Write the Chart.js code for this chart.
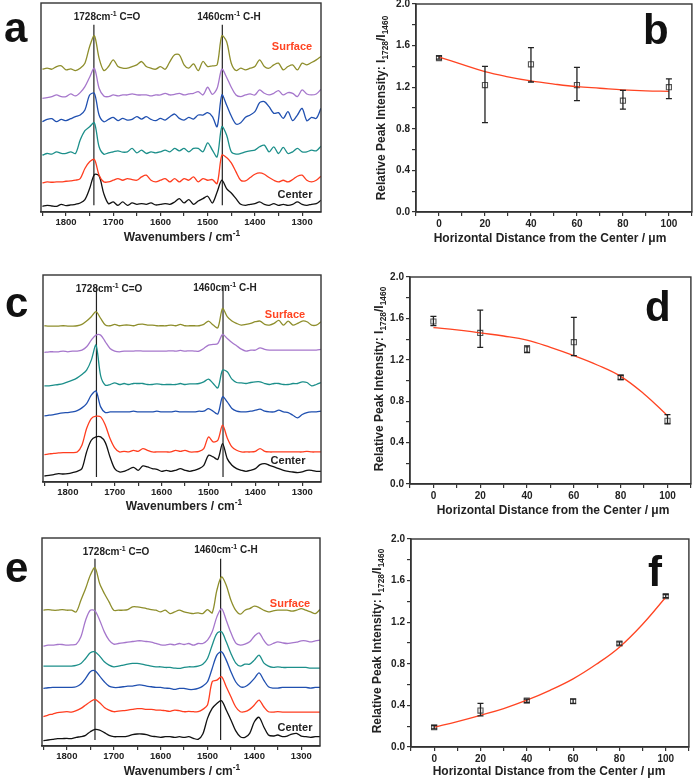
<!DOCTYPE html>
<html>
<head>
<meta charset="utf-8">
<script src="https://cdn.jsdelivr.net/npm/chart.js@4.4.1/dist/chart.umd.min.js"></script>
<style>
  body { margin: 0; background: #fff; width: 697px; height: 784px; position: relative; overflow: hidden;
         font-family: "Liberation Sans", Arial, sans-serif; }
  canvas { position: absolute; }
  .t { position: absolute; transform: translate(-50%, -50%); white-space: nowrap; font-weight: bold;
       line-height: 1; color: #222; }
  .t sup, .t sub { font-size: 70%; line-height: 0; }
  .rot { transform: translate(-50%, -50%) rotate(-90deg); }
  .big { font-size: 42px; color: #111; transform: none; }
</style>
</head>
<body>
<canvas id="ca" width="300" height="239" style="left:31px;top:-7px"></canvas>
<canvas id="cb" width="321" height="238" style="left:376px;top:-6px"></canvas>
<canvas id="cc" width="298" height="237" style="left:33px;top:265px"></canvas>
<canvas id="cd" width="326" height="237" style="left:370px;top:267px"></canvas>
<canvas id="ce" width="298" height="238" style="left:32px;top:528px"></canvas>
<canvas id="cf" width="323" height="238" style="left:371px;top:529px"></canvas>

<script>
// wavenumber grid shared by all spectra (cm-1)
const wn = [1850,1840,1830,1820,1810,1800,1790,1780,1770,1760,1750,1740,1730,1720,1710,1700,1690,1680,1670,1660,
            1650,1640,1630,1620,1610,1600,1590,1580,1570,1560,1550,1540,1530,1520,1510,1500,1490,1480,1470,1460,
            1450,1440,1430,1420,1410,1400,1390,1380,1370,1360,1350,1340,1330,1320,1310,1300,1290,1280,1270,1260];
// tick marks on the wavenumber axis (labels every 100)
const wnTicks = [1850, 1800, 1750, 1700, 1650, 1600, 1550, 1500, 1450, 1400, 1350, 1300];

// panel a spectra (stacked, arbitrary units)
const aOlive  = [4.27,4.30,4.27,4.35,4.37,4.25,4.28,4.23,4.30,4.45,4.95,5.27,4.60,4.23,4.35,4.55,4.35,4.30,4.30,4.35,
                 4.40,4.50,4.35,4.30,4.27,4.35,4.27,4.50,4.70,4.70,4.40,4.30,4.43,4.23,4.50,4.35,4.37,4.40,5.27,5.10,
                 4.45,4.23,4.30,4.25,4.30,4.35,4.55,4.35,4.30,4.40,4.45,4.25,4.35,4.40,4.25,4.45,4.40,4.47,4.55,4.65];
const aPurple = [3.40,3.42,3.45,3.50,3.45,3.45,3.53,3.47,3.57,3.75,4.03,4.30,3.70,3.47,3.45,3.50,3.47,3.50,3.50,3.53,
                 3.50,3.50,3.50,3.47,3.50,3.50,3.55,3.50,3.52,3.55,3.50,3.53,3.55,3.60,3.50,3.73,3.52,3.70,4.27,4.03,
                 3.73,3.50,3.45,3.50,3.53,3.50,3.65,3.55,3.50,3.55,3.63,3.50,3.57,3.55,3.45,3.65,3.53,3.50,3.53,3.67];
const aBlue   = [2.70,2.77,2.79,2.70,2.77,2.73,2.79,2.85,2.90,3.05,3.50,3.55,2.90,2.70,2.77,2.83,2.73,2.80,2.75,2.77,
                 2.85,2.78,2.85,2.77,2.73,2.80,2.75,2.85,2.93,2.80,2.75,2.83,2.78,2.90,2.90,2.97,2.85,2.55,3.50,3.20,
                 2.87,2.63,2.67,2.83,2.90,3.00,3.27,3.30,3.15,2.95,2.97,2.80,3.00,2.73,2.90,3.10,2.73,2.83,2.80,3.10];
const aTeal   = [1.70,1.75,1.73,1.80,1.75,1.75,1.80,1.75,2.15,2.43,2.55,2.67,1.95,1.73,1.77,1.80,1.83,1.79,1.80,1.90,
                 1.77,1.85,1.75,1.80,1.77,1.80,1.85,1.80,1.90,1.83,1.90,1.80,1.90,1.90,1.80,2.07,1.85,1.65,2.55,2.30,
                 1.80,1.73,1.75,1.80,1.83,1.85,1.95,2.00,1.80,1.95,1.75,1.93,1.75,1.80,1.90,1.80,1.80,1.85,1.83,1.97];
const aRed    = [0.87,0.90,0.89,0.90,0.90,0.92,0.93,0.95,1.00,1.30,1.50,1.57,1.10,0.90,0.90,0.95,1.00,0.95,1.00,0.97,
                 0.95,1.05,1.10,0.95,0.90,0.95,1.00,0.90,1.00,0.90,1.00,0.95,1.05,0.90,1.00,0.95,0.97,0.85,1.70,1.63,
                 1.47,1.20,0.95,0.93,1.03,1.13,1.17,1.13,1.03,0.95,0.90,0.95,0.90,0.97,1.07,1.10,0.95,0.90,0.95,1.07];
const aBlack  = [0.17,0.20,0.18,0.17,0.23,0.19,0.21,0.23,0.27,0.37,0.70,1.12,1.08,0.55,0.25,0.30,0.20,0.30,0.20,0.27,
                 0.23,0.25,0.23,0.27,0.21,0.23,0.25,0.23,0.30,0.40,0.27,0.37,0.23,0.33,0.40,0.47,0.27,0.60,0.95,0.70,
                 0.57,0.40,0.23,0.20,0.23,0.25,0.30,0.23,0.20,0.25,0.20,0.23,0.20,0.23,0.30,0.23,0.20,0.23,0.25,0.35];

// panel c spectra
const cOlive  = [4.68,4.67,4.67,4.67,4.68,4.67,4.67,4.68,4.72,4.82,4.95,5.10,4.90,4.70,4.68,4.72,4.68,4.70,4.70,4.68,
                 4.72,4.73,4.70,4.70,4.68,4.68,4.68,4.70,4.68,4.72,4.68,4.68,4.68,4.68,4.72,4.82,4.70,4.62,5.20,4.95,
                 4.82,4.75,4.70,4.72,4.75,4.80,4.82,4.72,4.70,4.75,4.84,4.70,4.82,4.70,4.75,4.82,4.80,4.70,4.70,4.80];
const cPurple = [3.88,3.90,3.90,3.90,3.92,3.90,3.92,3.92,3.95,4.05,4.25,4.40,4.40,4.20,4.00,3.92,3.90,3.92,3.92,3.92,
                 3.93,3.92,3.92,3.92,3.92,3.92,3.92,3.93,3.92,3.94,3.92,3.93,3.92,3.92,4.00,4.10,4.12,4.15,4.42,4.30,
                 4.18,4.08,3.98,3.92,3.95,3.95,4.02,3.97,3.95,3.95,3.95,3.95,3.95,3.95,3.95,3.95,3.95,3.95,3.95,3.97];
const cTeal   = [2.88,2.88,2.90,2.92,2.95,3.00,3.05,3.12,3.22,3.35,3.65,4.10,3.18,2.90,2.92,2.97,2.92,2.95,2.92,2.95,
                 2.95,2.95,2.92,2.92,2.94,2.92,2.92,2.92,2.92,2.95,2.92,2.94,2.94,2.95,3.00,3.08,2.95,2.82,3.35,3.30,
                 3.08,2.98,2.97,2.95,2.98,3.00,3.00,2.95,2.92,2.95,2.95,2.92,2.92,2.95,2.95,3.00,2.98,2.88,2.92,2.98];
const cBlue   = [1.98,2.00,2.02,2.05,2.07,2.08,2.10,2.14,2.22,2.35,2.60,2.72,2.25,2.08,2.10,2.10,2.10,2.10,2.10,2.12,
                 2.10,2.10,2.10,2.10,2.12,2.10,2.10,2.10,2.12,2.10,2.10,2.10,2.10,2.12,2.12,2.20,2.12,2.04,2.55,2.40,
                 2.20,2.12,2.10,2.10,2.12,2.15,2.18,2.12,2.10,2.10,2.15,2.10,2.08,2.00,1.92,2.02,2.08,2.10,2.10,2.12];
const cRed    = [0.82,0.84,0.86,0.87,0.88,0.88,0.88,0.90,1.10,1.60,1.90,1.97,1.95,1.70,1.30,1.02,0.90,0.92,0.90,0.95,
                 0.92,1.00,0.95,0.90,0.90,0.90,0.90,0.90,0.95,0.92,0.95,0.90,0.90,0.92,1.00,1.35,1.20,1.25,1.70,1.32,
                 1.05,0.95,0.90,0.90,0.90,0.92,1.00,0.92,0.90,0.90,0.90,0.90,0.90,0.90,0.90,0.90,0.92,0.90,0.90,0.90];
const cBlack  = [0.18,0.20,0.22,0.25,0.24,0.25,0.28,0.32,0.40,0.90,1.25,1.35,1.35,1.18,0.75,0.40,0.30,0.32,0.38,0.44,
                 0.35,0.48,0.45,0.40,0.38,0.32,0.35,0.32,0.35,0.40,0.35,0.32,0.35,0.40,0.50,0.80,0.75,0.68,1.15,0.70,
                 0.50,0.40,0.35,0.32,0.35,0.40,0.52,0.55,0.50,0.45,0.40,0.35,0.32,0.30,0.28,0.30,0.35,0.35,0.32,0.32];

// panel e spectra
const eOlive  = [4.08,4.10,4.08,4.08,4.10,4.08,4.08,4.03,4.38,4.73,5.13,5.36,4.88,4.58,4.33,4.08,4.08,4.08,4.10,4.18,
                 4.18,4.16,4.13,4.10,4.08,4.03,4.08,3.98,4.03,4.08,4.03,4.00,3.98,4.00,3.98,4.10,4.00,4.68,5.08,4.83,
                 4.38,4.08,3.96,4.08,4.13,4.20,4.16,4.08,4.03,4.06,4.08,4.08,4.08,4.05,4.08,4.13,4.08,4.03,3.98,4.10];
const ePurple = [3.00,3.03,3.03,3.05,3.05,3.03,3.04,3.06,3.28,3.78,4.08,4.06,3.78,3.43,3.18,3.06,3.08,3.10,3.12,3.14,
                 3.16,3.16,3.14,3.12,3.08,3.04,3.03,3.06,3.04,3.08,3.05,3.08,3.03,3.08,3.08,3.18,3.43,3.88,4.13,3.78,
                 3.40,3.10,3.03,3.06,3.13,3.30,3.40,3.18,3.03,3.08,3.13,3.10,3.08,3.10,3.12,3.16,3.16,3.13,3.16,3.18];
const eTeal   = [2.40,2.40,2.40,2.40,2.40,2.40,2.40,2.42,2.48,2.63,2.80,2.83,2.70,2.53,2.43,2.38,2.40,2.43,2.46,2.48,
                 2.48,2.46,2.43,2.40,2.38,2.38,2.36,2.36,2.34,2.33,2.36,2.38,2.38,2.40,2.46,2.63,3.03,3.38,3.43,3.13,
                 2.78,2.50,2.40,2.46,2.46,2.58,2.73,2.50,2.40,2.36,2.38,2.36,2.36,2.36,2.36,2.36,2.36,2.34,2.34,2.34];
const eBlue   = [1.73,1.75,1.76,1.76,1.76,1.76,1.76,1.78,1.86,2.03,2.23,2.26,2.10,1.93,1.80,1.76,1.76,1.78,1.80,1.80,
                 1.83,1.83,1.80,1.78,1.76,1.76,1.74,1.73,1.70,1.73,1.73,1.70,1.70,1.73,1.80,1.93,2.33,2.73,2.83,2.58,
                 2.23,1.93,1.78,1.78,1.88,2.03,2.20,1.98,1.78,1.74,1.74,1.76,1.76,1.76,1.76,1.76,1.76,1.74,1.76,1.76];
const eRed    = [0.88,0.93,0.96,1.00,1.02,1.03,1.02,1.06,1.13,1.23,1.33,1.40,1.30,1.16,1.08,1.03,1.05,1.06,1.08,1.10,
                 1.12,1.12,1.10,1.10,1.08,1.08,1.06,1.04,1.08,1.06,1.03,1.04,1.03,1.03,1.10,1.23,1.93,1.98,2.08,1.78,
                 1.48,1.18,1.03,1.03,1.10,1.23,1.38,1.18,1.03,1.02,1.03,1.02,1.02,1.02,1.02,1.02,1.02,1.02,1.02,1.02];
const eBlack  = [0.16,0.18,0.20,0.22,0.22,0.23,0.22,0.26,0.28,0.32,0.43,0.50,0.48,0.40,0.32,0.28,0.28,0.28,0.30,0.34,
                 0.36,0.36,0.34,0.30,0.28,0.26,0.28,0.28,0.26,0.28,0.26,0.28,0.23,0.20,0.36,0.83,1.13,1.28,1.36,1.08,
                 0.78,0.46,0.28,0.26,0.38,0.73,0.86,0.58,0.33,0.30,0.33,0.28,0.30,0.36,0.38,0.30,0.28,0.26,0.28,0.28];

// marker lines (C=O, C-H) and their vertical span
const aMarks = [1741, 1469], aSpan = [0.20, 5.60];
const cMarks = [1739, 1469], cSpan = [0.15, 5.85];
const eMarks = [1740, 1472], eSpan = [0.18, 5.63];

// ratio plots
const dist = [0, 20, 40, 60, 80, 100];
const bRatio = [1.48, 1.22, 1.42, 1.22, 1.07, 1.20];
const bLow   = [1.47, 0.86, 1.25, 1.07, 0.99, 1.09];
const bHigh  = [1.50, 1.40, 1.58, 1.39, 1.17, 1.28];
const dRatio = [1.57, 1.46, 1.30, 1.37, 1.03, 0.61];
const dLow   = [1.53, 1.32, 1.27, 1.24, 1.01, 0.58];
const dHigh  = [1.62, 1.68, 1.335, 1.61, 1.05, 0.67];
const fRatio = [0.19, 0.35, 0.445, 0.44, 0.995, 1.45];
const fLow   = [0.175, 0.30, 0.43, 0.42, 0.98, 1.435];
const fHigh  = [0.205, 0.42, 0.46, 0.46, 1.01, 1.465];
const fitX = [0, 10, 20, 30, 40, 50, 60, 70, 80, 90, 100];
const bFit = [1.49, 1.42, 1.35, 1.30, 1.26, 1.23, 1.205, 1.19, 1.175, 1.165, 1.16];
const dFit = [1.51, 1.49, 1.46, 1.43, 1.39, 1.32, 1.24, 1.15, 1.04, 0.87, 0.66];
const fFit = [0.19, 0.245, 0.305, 0.37, 0.45, 0.545, 0.655, 0.795, 0.96, 1.18, 1.44];

const COL = { olive: "#8e8e2c", purple: "#a677cc", blue: "#2050b0", teal: "#1c8f8a", red: "#ff3d1f", black: "#111" };
const FIT = "#ff4422";

Chart.defaults.font.family = '"Liberation Sans", Arial, sans-serif';
Chart.defaults.font.weight = "bold";
Chart.defaults.color = "#222";

// box round the plot area
const framePlugin = {
  id: "frame",
  afterDraw(chart) {
    const { ctx, chartArea: a } = chart;
    ctx.save();
    ctx.strokeStyle = "#333";
    ctx.lineWidth = 1.4;
    ctx.strokeRect(a.left, a.top, a.right - a.left, a.bottom - a.top);
    ctx.restore();
  }
};

// vertical error bars with caps
const errorBarPlugin = {
  id: "errorBars",
  afterDatasetsDraw(chart, args, opts) {
    if (!opts || !opts.low) return;
    const { ctx } = chart;
    const xs = chart.scales.x, ys = chart.scales.y;
    ctx.save();
    ctx.strokeStyle = "#222";
    ctx.lineWidth = 1.3;
    opts.x.forEach((v, i) => {
      const px = xs.getPixelForValue(v);
      const y1 = ys.getPixelForValue(opts.low[i]);
      const y2 = ys.getPixelForValue(opts.high[i]);
      ctx.beginPath();
      ctx.moveTo(px, y1); ctx.lineTo(px, y2);
      ctx.moveTo(px - 3, y1); ctx.lineTo(px + 3, y1);
      ctx.moveTo(px - 3, y2); ctx.lineTo(px + 3, y2);
      ctx.stroke();
    });
    ctx.restore();
  }
};

const axisGrid = { drawOnChartArea: false, drawTicks: true, tickLength: 4, color: "#333", lineWidth: 1.2 };
const axisBorder = { display: true, color: "#333", width: 1.4 };

function makeSpectrum(id, traces, marks, span, yMax) {
  const datasets = traces.map(([vals, color]) => ({
    data: wn.map((w, i) => ({ x: w, y: vals[i] })),
    borderColor: color, borderWidth: 1.3, pointRadius: 0, tension: 0.3, fill: false
  }));
  marks.forEach(m => datasets.push({
    data: [{ x: m, y: span[0] }, { x: m, y: span[1] }],
    borderColor: "#222", borderWidth: 1.2, pointRadius: 0
  }));
  new Chart(document.getElementById(id), {
    type: "line",
    data: { datasets },
    plugins: [framePlugin],
    options: {
      responsive: false, animation: false, devicePixelRatio: 1,
      layout: { padding: { left: 10, right: 10, top: 10, bottom: 0 } },
      plugins: { legend: { display: false }, tooltip: { enabled: false } },
      scales: {
        x: {
          type: "linear", reverse: true, min: 1260, max: 1853,
          afterBuildTicks: s => { s.ticks = wnTicks.map(v => ({ value: v })); },
          afterFit: s => { s.height = 20; },
          grid: axisGrid, border: axisBorder,
          ticks: { autoSkip: false, maxRotation: 0, padding: 1, font: { size: 9.5 },
                   callback: v => (Math.round(v) % 100 === 0 ? String(Math.round(v)) : "") }
        },
        y: { display: false, min: 0, max: yMax }
      }
    }
  });
}

function makeRatio(id, ratio, low, high, fit) {
  new Chart(document.getElementById(id), {
    type: "scatter",
    data: {
      datasets: [
        { data: fitX.map((x, i) => ({ x, y: fit[i] })), showLine: true, borderColor: FIT,
          borderWidth: 1.3, pointRadius: 0, tension: 0.4 },
        { data: dist.map((x, i) => ({ x, y: ratio[i] })), pointStyle: "rect", pointRadius: 3.6,
          borderColor: "#555", backgroundColor: "rgba(255,255,255,0)", borderWidth: 1.1 }
      ]
    },
    plugins: [framePlugin, errorBarPlugin],
    options: {
      responsive: false, animation: false, devicePixelRatio: 1,
      layout: { padding: { left: 0, right: 4, top: 10, bottom: 0 } },
      plugins: { legend: { display: false }, tooltip: { enabled: false },
                 errorBars: { x: dist, low, high } },
      scales: {
        x: {
          type: "linear", min: -10, max: 110,
          afterFit: s => { s.height = 20; },
          grid: axisGrid, border: axisBorder,
          ticks: { stepSize: 10, autoSkip: false, maxRotation: 0, padding: 2, font: { size: 10 },
                   callback: v => (v >= 0 && v <= 100 && v % 20 === 0 ? String(v) : "") }
        },
        y: {
          min: 0, max: 2,
          afterFit: s => { s.width = 40; },
          grid: axisGrid, border: axisBorder,
          ticks: { stepSize: 0.2, autoSkip: false, padding: 2, font: { size: 10 },
                   callback: v => (Math.round(v * 10) % 4 === 0 ? v.toFixed(1) : "") }
        }
      }
    }
  });
}

makeSpectrum("ca", [[aOlive, COL.olive], [aPurple, COL.purple], [aBlue, COL.blue], [aTeal, COL.teal],
                    [aRed, COL.red], [aBlack, COL.black]], aMarks, aSpan, 6.25);
makeSpectrum("cc", [[cOlive, COL.olive], [cPurple, COL.purple], [cTeal, COL.teal], [cBlue, COL.blue],
                    [cRed, COL.red], [cBlack, COL.black]], cMarks, cSpan, 6.2);
makeSpectrum("ce", [[eOlive, COL.olive], [ePurple, COL.purple], [eTeal, COL.teal], [eBlue, COL.blue],
                    [eRed, COL.red], [eBlack, COL.black]], eMarks, eSpan, 6.25);
makeRatio("cb", bRatio, bLow, bHigh, bFit);
makeRatio("cd", dRatio, dLow, dHigh, dFit);
makeRatio("cf", fRatio, fLow, fHigh, fFit);

// text labels: [html, x, y, size, colour, extra class]
const yTitle = "Relative Peak Intensity: I<sub>1728</sub>/I<sub>1460</sub>";
const xTitle = "Horizontal Distance from the Center / &mu;m";
const wTitle = "Wavenumbers / cm<sup>-1</sup>";
const labels = [
  ["1728cm<sup>-1</sup> C=O", 107, 17, 10], ["1460cm<sup>-1</sup> C-H", 229, 17, 10],
  ["Surface", 292, 46, 11, "#ff4422"], ["Center", 295, 194, 11], [wTitle, 182, 237, 12],
  ["1728cm<sup>-1</sup> C=O", 109, 289, 10], ["1460cm<sup>-1</sup> C-H", 225, 288, 10],
  ["Surface", 285, 314, 11, "#ff4422"], ["Center", 288, 460, 11], [wTitle, 184, 506, 12],
  ["1728cm<sup>-1</sup> C=O", 116, 552, 10], ["1460cm<sup>-1</sup> C-H", 226, 550, 10],
  ["Surface", 290, 603, 11, "#ff4422"], ["Center", 295, 727, 11], [wTitle, 182, 771, 12],
  [xTitle, 550, 238, 12], [yTitle, 381, 108, 12, null, "rot"],
  [xTitle, 553, 510, 12], [yTitle, 379, 379, 12, null, "rot"],
  [xTitle, 549, 771, 12], [yTitle, 377, 641, 12, null, "rot"]
];
labels.forEach(([html, x, y, size, color, cls]) => {
  const d = document.createElement("div");
  d.className = "t" + (cls ? " " + cls : "");
  d.innerHTML = html;
  d.style.left = x + "px";
  d.style.top = y + "px";
  d.style.fontSize = size + "px";
  if (color) d.style.color = color;
  document.body.appendChild(d);
});

// panel letters
[["a", 4, 7], ["b", 643, 9], ["c", 5, 282], ["d", 645, 286], ["e", 5, 547], ["f", 648, 551]].forEach(([ch, x, y]) => {
  const d = document.createElement("div");
  d.className = "t big";
  d.textContent = ch;
  d.style.left = x + "px";
  d.style.top = y + "px";
  document.body.appendChild(d);
});
</script>
</body>
</html>
